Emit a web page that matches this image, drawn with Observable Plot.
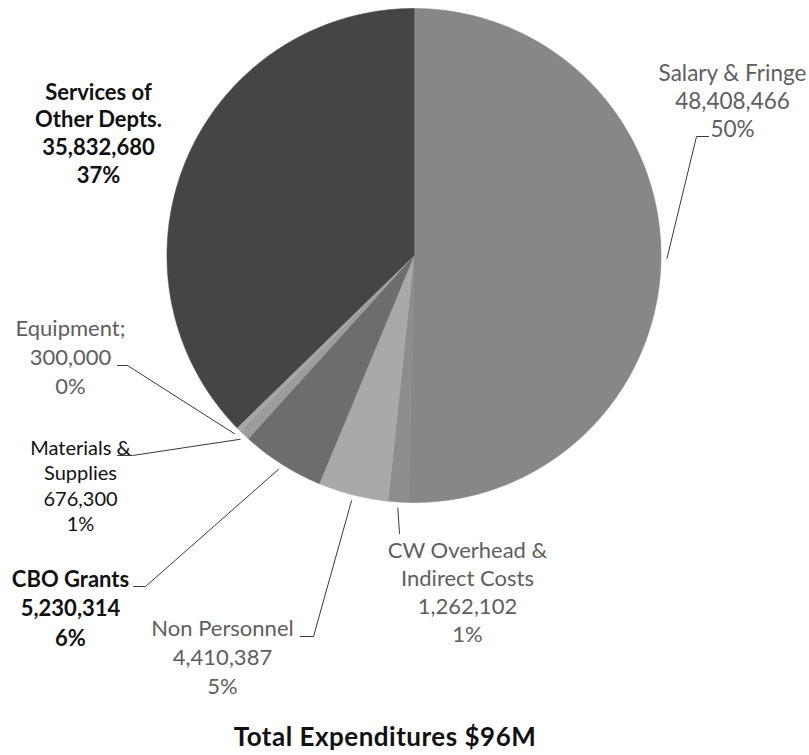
<!DOCTYPE html>
<html><head><meta charset="utf-8">
<script src="https://cdn.jsdelivr.net/npm/d3@7"></script>
<script src="https://cdn.jsdelivr.net/npm/@observablehq/plot@0.6"></script>
<style>
body{margin:0;background:#fff;}
#chart svg{display:block;}
#title{font-family:Lato,"Open Sans",sans-serif;font-weight:bold;font-size:26px;letter-spacing:0.5px;line-height:30px;height:30px;width:809px;text-align:center;box-sizing:border-box;padding-right:39px;color:#111;white-space:nowrap;}
</style></head><body>
<div id="chart"></div>
<div id="title">Total Expenditures $96M</div>
<script>
// ---- data ----
const categories = ["Salary & Fringe","CW Overhead & Indirect Costs","Non Personnel","CBO Grants","Materials & Supplies","Equipment","Services of Other Depts."];
const amounts = [48408466,1262102,4410387,5230314,676300,300000,35832680];
const percentLabels = ["50%","1%","5%","6%","1%","0%","37%"];
const nameLines = [["Salary & Fringe"],["CW Overhead &","Indirect Costs"],["Non Personnel"],["CBO Grants"],["Materials &","Supplies"],["Equipment;"],["Services of","Other Depts."]];
const sliceColors = ["#878787","#8d8d8d","#a9a9a9","#6d6d6d","#9c9c9c","#a6a6a6","#454545"];

// ---- layout (styles / positions) ----
const W = 809, H = 721;
const cx = 413.5, cy = 255, R = 247;
const grayText = "#5e5e5e", darkText = "#111";
const labelLayout = [
  {x:732, y:80,  dy:28,   size:22.5, weight:"normal", fill:grayText, leader:[[708,136],[696,136]]},
  {x:467, y:557, dy:28,   size:22, weight:"normal", fill:grayText, leader:[[399,533]]},
  {x:222, y:635, dy:29,   size:22, weight:"normal", fill:grayText, leader:[[300,636],[313,636]]},
  {x:70,  y:586, dy:29.5, size:22, weight:"bold",   fill:darkText, leader:[[133,586],[145,586]]},
  {x:80,  y:454, dy:25.5, size:20, weight:"normal", fill:darkText, leader:[[117,455],[132,455]]},
  {x:70,  y:335, dy:29,   size:22, weight:"normal", fill:grayText, leader:[[117,365],[127,365]]},
  {x:98,  y:99,  dy:27.8, size:22, weight:"bold",   fill:darkText, leader:null}
];

const fmt = d3.format(",");
const arcs = d3.pie().sort(null).startAngle(0).endAngle(2*Math.PI)(amounts);

// slice polygons
const slicePts = [];
arcs.forEach((a, i) => {
  slicePts.push({cat: categories[i], col: sliceColors[i], px: cx, py: cy});
  const n = Math.max(2, Math.ceil((a.endAngle - a.startAngle) / 0.005));
  for (let k = 0; k <= n; k++) {
    const t = a.startAngle + (a.endAngle - a.startAngle) * k / n;
    slicePts.push({cat: categories[i], col: sliceColors[i], px: cx + R*Math.sin(t), py: cy - R*Math.cos(t)});
  }
  slicePts.push({cat: categories[i], col: sliceColors[i], px: cx, py: cy});
});

// leader lines: from label elbow to just outside the slice's mid-angle
const leaderSeries = [];
labelLayout.forEach((L, i) => {
  if (!L.leader) return;
  const a = arcs[i];
  const mid = (a.startAngle + a.endAngle) / 2;
  const pts = L.leader.map(p => ({cat: categories[i], px: p[0], py: p[1]}));
  pts.push({cat: categories[i], px: cx + (R+6)*Math.sin(mid), py: cy - (R+6)*Math.cos(mid)});
  leaderSeries.push(...pts);
});

// label text marks
const textMarks = labelLayout.map((L, i) => {
  const lines = [...nameLines[i], fmt(amounts[i]), percentLabels[i]];
  const rows = lines.map((t, j) => ({t, px: L.x, py: L.y + j*L.dy}));
  return Plot.text(rows, {x: "px", y: "py", text: "t", textAnchor: "middle", lineAnchor: "bottom",
    fontSize: L.size, fontWeight: L.weight, fill: L.fill, fontFamily: "Lato"});
});

const chart = Plot.plot({
  width: W, height: H, margin: 0,
  x: {domain: [0, W], range: [0, W], axis: null},
  y: {domain: [0, H], range: [0, H], axis: null},
  color: {type: "identity"},
  style: {fontFamily: "Lato", background: "#fff"},
  marks: [
    Plot.line(slicePts, {x: "px", y: "py", z: "cat", fill: "col", stroke: "col", strokeWidth: 0.6}),
    Plot.line(leaderSeries, {x: "px", y: "py", z: "cat", stroke: "#3a3a3a", strokeWidth: 1}),
    ...textMarks
  ]
});
document.getElementById("chart").appendChild(chart);
</script>
</body></html>
